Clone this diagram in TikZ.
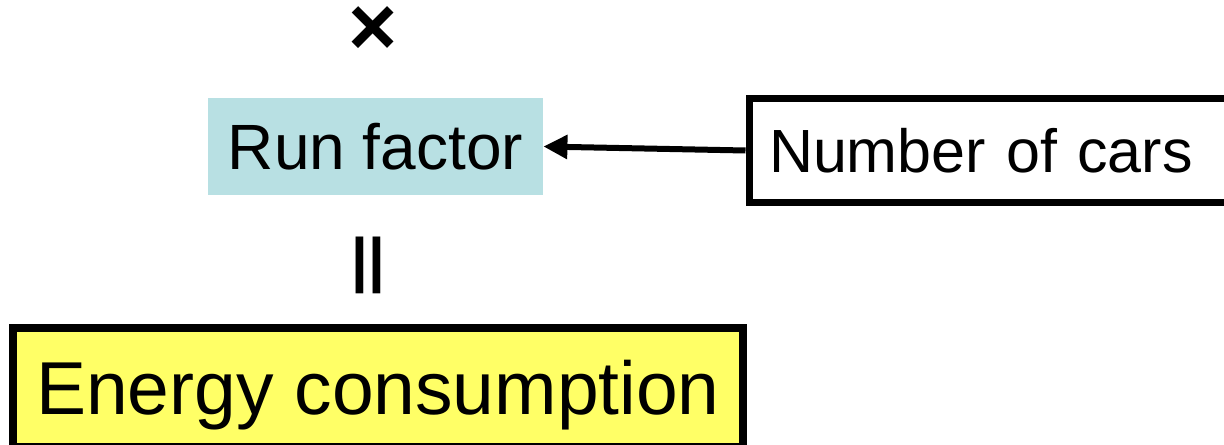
\documentclass[tikz,border=0pt]{standalone}
\usepackage{fontspec}
\setmainfont{Liberation Sans}
\usetikzlibrary{arrows.meta,positioning}
\definecolor{runcol}{HTML}{B8E0E3}
\definecolor{energycol}{HTML}{FFFF66}

\begin{document}
\begin{tikzpicture}[x=0.5pt, y=-0.5pt,
			runbox/.style = {fill=runcol, inner sep=0pt, minimum width=167.5pt,
				minimum height=48.5pt, font=\fontsize{32}{36}\selectfont},
			carbox/.style = {draw, line width=3.5pt, anchor=west, inner xsep=10pt,
				minimum height=52pt, text width=240pt, align=left,
				font=\fontsize{30.5}{36}\selectfont},
			energybox/.style = {draw, line width=4pt, fill=energycol, inner sep=0pt,
				minimum width=365pt, minimum height=59.5pt, text depth=0pt,
				font=\fontsize{37.5}{42}\selectfont},
			sign/.style = {inner sep=0pt, font=\bfseries\fontsize{#1}{#1}\selectfont},
			line/.style = {draw, line width=3pt, -{Triangle[length=12pt, width=11.5pt]}},
			]
		
		\useasboundingbox (0,0) rectangle (1224,444);
		
		\node[sign=42] (times) at (373,31) {×};
		\node[runbox] (run) at (375.5,146.5) {Run factor};
		\node[sign=30] (equal) at (368.5,265.5) {||};
		\node[energybox] (energy) at (378,387.5) {Energy consumption};
		\node[carbox] (cars) at (745.5,150.5) {Number of cars}; % runs off the page
		
		\draw[line] (cars.west) to (run.east);    % <---
		
\end{tikzpicture}
\end{document}
